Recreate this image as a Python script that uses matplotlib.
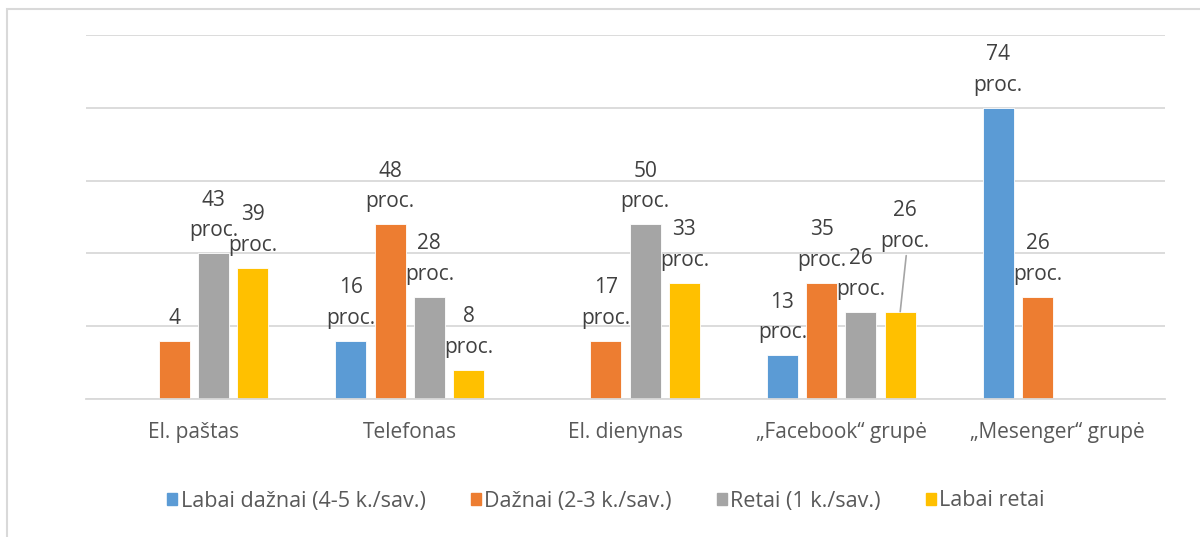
import matplotlib
matplotlib.use("Agg")
import matplotlib.pyplot as plt
import numpy as np
from matplotlib.patches import Rectangle

# ---- data ----
categories = ["El. paštas", "Telefonas", "El. dienynas", "„Facebook“ grupė", "„Mesenger“ grupė"]
series_names = ["Labai dažnai (4-5 k./sav.)", "Dažnai (2-3 k./sav.)", "Retai (1 k./sav.)", "Labai retai"]
labai_daznai = [0, 16, 0, 12, 80]
daznai = [16, 48, 16, 32, 28]
retai = [40, 28, 48, 24, 0]
labai_retai = [36, 8, 32, 24, 0]
labels_labai_daznai = [None, "16\nproc.", None, "13\nproc.", "74\nproc."]
labels_daznai = ["4", "48\nproc.", "17\nproc.", "35\nproc.", "26\nproc."]
labels_retai = ["43\nproc.", "28\nproc.", "50\nproc.", "26\nproc.", None]
labels_labai_retai = ["39\nproc.", "8\nproc.", "33\nproc.", "26\nproc.", None]

colors = ["#5B9BD5", "#ED7D31", "#A5A5A5", "#FFC000"]
FONT = ["Open Sans", "DejaVu Sans"]
plt.rcParams["font.family"] = FONT

W, H = 1200, 537
fig = plt.figure(figsize=(W / 100, H / 100), dpi=100)
fig.patch.set_facecolor("white")

# outer chart frame (cropped on right and bottom)
fig.add_artist(Rectangle((6.5 / W, -0.1), 1.2, 1 - 8.5 / H + 0.1, transform=fig.transFigure,
                         fill=False, edgecolor="#D9D9D9", linewidth=1.5))

ax = fig.add_axes([86 / W, 1 - 399 / H, (1165 - 86) / W, (399 - 35) / H])
ax.set_xlim(-0.5, 4.5)
ax.set_ylim(0, 100)
ax.set_yticks(np.arange(0, 101, 20))
ax.yaxis.grid(True, color="#D9D9D9", linewidth=1.3)
ax.set_axisbelow(True)
for s in ["left", "right", "top"]:
    ax.spines[s].set_visible(False)
ax.spines["bottom"].set_color("#D9D9D9")
ax.spines["bottom"].set_linewidth(1.3)
ax.tick_params(axis="y", left=False, labelleft=False)
ax.tick_params(axis="x", bottom=False, pad=13, labelsize=15, labelcolor="#595959")

x = np.arange(len(categories))
bw = 0.1437
step = 0.182
all_series = [labai_daznai, daznai, retai, labai_retai]
all_labels = [labels_labai_daznai, labels_daznai, labels_retai, labels_labai_retai]
for i, (vals, labs) in enumerate(zip(all_series, all_labels)):
    xs = x + (i - 1.5) * step
    bars = ax.bar(xs, vals, width=bw, color=colors[i], edgecolor="white", linewidth=0.6,
                  label=series_names[i])
    for j, (b, lab) in enumerate(zip(bars, labs)):
        if lab is None:
            continue
        bx = b.get_x() + b.get_width() / 2
        by = b.get_height()
        dx, dy = 0, 12
        moved = (i == 3 and j == 3)
        if moved:
            dx, dy = 5, 60
        ax.annotate(lab, (bx, by), xytext=(dx, dy), textcoords="offset pixels",
                    ha="center", va="bottom", fontsize=15, color="#404040",
                    linespacing=1.6, annotation_clip=False)
        if moved:
            ax.annotate("", (bx, by), xytext=(6, 56), textcoords="offset pixels",
                        arrowprops=dict(arrowstyle="-", color="#A5A5A5", lw=1.2,
                                        shrinkA=0, shrinkB=0))

ax.set_xticks(x)
ax.set_xticklabels(categories)

handles = [Rectangle((0, 0), 1, 1, color=c) for c in colors]
fig.legend(handles, series_names, loc="center", bbox_to_anchor=(606 / W, 1 - 501 / H),
           ncol=4, frameon=False, fontsize=15.5, labelcolor="#595959",
           handlelength=0.47, handleheight=0.47, handletextpad=0.15, columnspacing=2.1)

fig.savefig("out.png", dpi=100, facecolor="white")
